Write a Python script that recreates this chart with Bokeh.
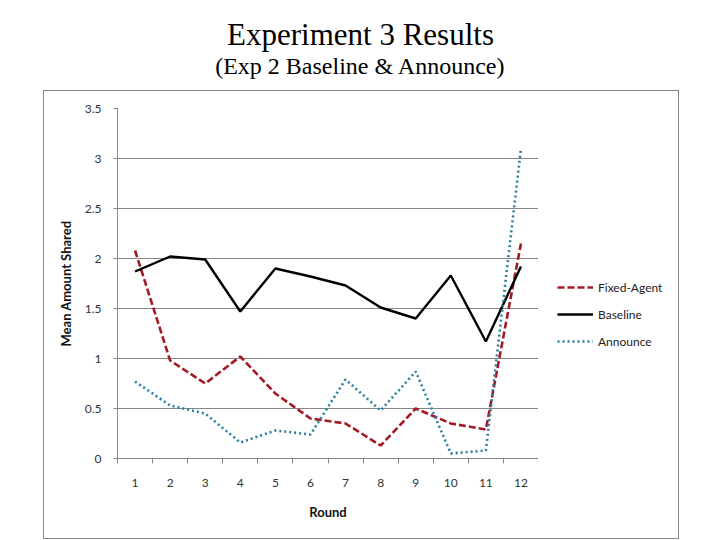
from bokeh.plotting import figure
from bokeh.layouts import column, row
from bokeh.models import (ColumnDataSource, Legend, LegendItem, FixedTicker,
                          NumeralTickFormatter, Label, Spacer)
from bokeh.embed import file_html
from bokeh.resources import INLINE

rounds = [1, 2, 3, 4, 5, 6, 7, 8, 9, 10, 11, 12]
fixed_agent = [2.08, 0.98, 0.75, 1.02, 0.65, 0.40, 0.35, 0.13, 0.50, 0.35, 0.29, 2.15]
baseline = [1.87, 2.02, 1.99, 1.47, 1.90, 1.82, 1.73, 1.51, 1.40, 1.83, 1.17, 1.92]
announce = [0.77, 0.53, 0.45, 0.16, 0.28, 0.24, 0.79, 0.48, 0.87, 0.05, 0.08, 3.10]
y_ticks = [0, 0.5, 1, 1.5, 2, 2.5, 3, 3.5]
series_names = ["Fixed-Agent", "Baseline", "Announce"]
title_text = "Experiment 3 Results"
subtitle_text = "(Exp 2 Baseline & Announce)"

axis_col = "#868686"
font = "Lato"
styles = [dict(line_color="#A31A24", line_width=2.6, line_dash="7 3"),
          dict(line_color="black", line_width=2.4),
          dict(line_color="#2A7FA0", line_width=2.6, line_dash="2 3")]

# ---- title strip ----
tp = figure(width=720, height=90, x_range=(0, 720), y_range=(0, 90),
            min_border=0, x_axis_location=None, y_axis_location=None,
            toolbar_location=None, output_backend="svg")
tp.outline_line_color = None
tp.grid.visible = False
tp.add_layout(Label(x=360, y=56, x_units="screen", y_units="screen", text=title_text,
                    text_font="Liberation Serif", text_font_size="31px",
                    text_align="center", text_baseline="alphabetic", text_color="black"))
tp.add_layout(Label(x=360, y=25, x_units="screen", y_units="screen", text=subtitle_text,
                    text_font="Liberation Serif", text_font_size="24px",
                    text_align="center", text_baseline="alphabetic", text_color="black"))

# ---- chart ----
src = ColumnDataSource(dict(x=rounds, fa=fixed_agent, bl=baseline, an=announce))

p = figure(width=494, height=447, output_backend="svg", toolbar_location=None,
           x_range=(0.5, 12.5), y_range=(0, 3.5),
           min_border_left=73, min_border_right=0,
           min_border_top=17, min_border_bottom=80)
p.outline_line_color = None

p.xaxis.ticker = FixedTicker(ticks=rounds, minor_ticks=[r - 0.5 for r in rounds] + [12.5])
p.xaxis.major_tick_line_color = None
p.xaxis.major_tick_out = 5
p.xaxis.major_tick_in = 0
p.xaxis.minor_tick_out = 5
p.xaxis.minor_tick_in = 0
p.xaxis.minor_tick_line_color = axis_col
p.xaxis.axis_line_color = axis_col
p.xaxis.major_label_standoff = 15
p.xaxis.axis_label = "Round"
p.xaxis.axis_label_standoff = 14

p.yaxis.ticker = FixedTicker(ticks=y_ticks)
p.yaxis.formatter = NumeralTickFormatter(format="0.[0]")
p.yaxis.major_tick_out = 4
p.yaxis.major_tick_in = 0
p.yaxis.minor_tick_line_color = None
p.yaxis.major_tick_line_color = axis_col
p.yaxis.axis_line_color = axis_col
p.yaxis.major_label_standoff = 12
p.yaxis.axis_label = "Mean Amount Shared"
p.yaxis.axis_label_standoff = 8

for ax in (p.xaxis, p.yaxis):
    ax.major_label_text_font = font
    ax.major_label_text_font_size = "12px"
    ax.major_label_text_color = "#333333"
    ax.axis_label_text_font = font
    ax.axis_label_text_font_size = "13px"
    ax.axis_label_text_font_style = "bold"
    ax.axis_label_text_color = "#111111"

p.xgrid.grid_line_color = None
p.ygrid.ticker = FixedTicker(ticks=[0.5, 1, 1.5, 2, 2.5, 3])
p.ygrid.grid_line_color = axis_col
p.ygrid.grid_line_width = 1

for col, st in zip(["fa", "bl", "an"], styles):
    p.line("x", col, source=src, **st)

# ---- legend panel ----
lf = figure(width=140, height=447, x_range=(0, 1), y_range=(0, 1),
            min_border=0, x_axis_location=None, y_axis_location=None,
            toolbar_location=None, output_backend="svg")
lf.outline_line_color = None
lf.grid.visible = False
nan_src = ColumnDataSource(dict(x=[float("nan")], y=[float("nan")]))
items = []
for name, st in zip(series_names, styles):
    r = lf.line("x", "y", source=nan_src, **st)
    items.append(LegendItem(label=name, renderers=[r]))

legend = Legend(items=items, location=(19, 107), orientation="vertical")
legend.glyph_width = 36
legend.glyph_height = 20
legend.label_height = 20
legend.spacing = 7
legend.padding = 0
legend.margin = 0
legend.label_standoff = 5
legend.border_line_color = None
legend.background_fill_alpha = 0
legend.label_text_font = font
legend.label_text_font_size = "12px"
legend.label_text_color = "#222222"
lf.add_layout(legend, "center")

boxed = row(p, lf, spacing=0,
            styles={"border": "1px solid #868686", "box-sizing": "border-box"})
layout = column(tp, row(Spacer(width=43, height=449), boxed, spacing=0), spacing=0)

open("out.html", "w").write(file_html(layout, INLINE))
